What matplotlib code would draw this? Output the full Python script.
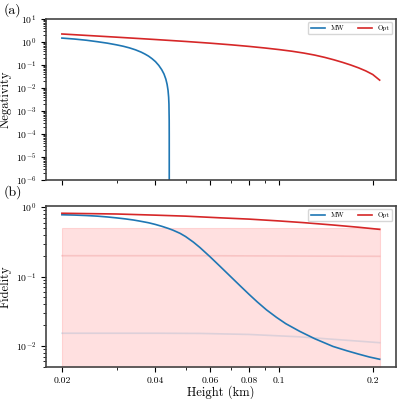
import matplotlib
matplotlib.use('Agg')
import matplotlib.pyplot as plt
from matplotlib.ticker import NullFormatter
import numpy as np

plt.rcParams['font.family'] = 'serif'
plt.rcParams['font.serif'] = ['cmr10']
plt.rcParams['mathtext.fontset'] = 'cm'
plt.rcParams['axes.formatter.use_mathtext'] = True
plt.rcParams['axes.unicode_minus'] = False

# (a) negativity ###############################################################
h_neg_mw = [0.0200, 0.0220, 0.0240, 0.0260, 0.0280, 0.0300, 0.0315, 0.0330,
            0.0345, 0.0360, 0.0370, 0.0380, 0.0390, 0.0400, 0.0410, 0.0419,
            0.0426, 0.0432, 0.0436, 0.0439, 0.0441, 0.0442, 0.04428,
            0.044296, 0.0442996, 0.0443]
neg_mw = [1.48, 1.34, 1.19, 1.03, 0.89, 0.75, 0.653, 0.554,
          0.456, 0.361, 0.299, 0.243, 0.188, 0.140, 0.0957, 0.0624,
          0.0408, 0.0242, 0.0144, 0.008, 0.004, 0.002, 4e-4,
          8e-5, 8e-6, 1e-7]

h_neg_opt = [0.02, 0.03, 0.04, 0.05, 0.06, 0.07, 0.08, 0.09, 0.10, 0.11,
             0.12, 0.13, 0.14, 0.15, 0.16, 0.17, 0.18, 0.19, 0.20, 0.2105]
neg_opt = [2.23, 1.62, 1.28, 1.056, 0.888, 0.754, 0.643, 0.548, 0.467, 0.396,
           0.330, 0.270, 0.215, 0.168, 0.130, 0.0996, 0.0752, 0.0552, 0.0386,
           0.022]

# (b) fidelity #################################################################
h_fid_mw = [0.020, 0.022, 0.024, 0.026, 0.028, 0.030, 0.032, 0.034, 0.0356,
            0.038, 0.040, 0.042, 0.044, 0.0455, 0.048, 0.050, 0.053, 0.0556,
            0.060, 0.0644, 0.0711, 0.075, 0.080, 0.085, 0.091, 0.098, 0.105,
            0.1164, 0.130, 0.149, 0.165, 0.180, 0.195, 0.2105]
fid_mw = [0.78, 0.772, 0.760, 0.745, 0.725, 0.703, 0.680, 0.655, 0.632,
          0.598, 0.565, 0.530, 0.495, 0.468, 0.4205, 0.378, 0.3136, 0.2627,
          0.1922, 0.1418, 0.0922, 0.0731, 0.0554, 0.0431, 0.0331, 0.0258,
          0.0209, 0.0162, 0.0127, 0.0098, 0.0085, 0.0076, 0.0069, 0.0064]

h_fid_opt = [0.020, 0.030, 0.040, 0.050, 0.0644, 0.080, 0.100, 0.120, 0.149,
             0.180, 0.2105]
fid_opt = [0.82, 0.80, 0.77, 0.745, 0.705, 0.675, 0.635, 0.60, 0.555,
           0.515, 0.48]

h_band = [0.020, 0.2105]
band_hi = [0.5, 0.5]
band_lo = [1e-4, 1e-4]

h_lim_opt = [0.020, 0.0556, 0.2105]
lim_opt = [0.200, 0.200, 0.196]

h_lim_mw = [0.020, 0.040, 0.0556, 0.080, 0.116, 0.2105]
lim_mw = [0.0152, 0.0152, 0.0151, 0.0146, 0.0135, 0.0111]

xticks = [0.02, 0.04, 0.06, 0.08, 0.1, 0.2]
xticklabels = ['0.02', '0.04', '0.06', '0.08', '0.1', '0.2']

c_mw = '#1f77b4'
c_opt = '#d62728'

fig = plt.figure(figsize=(3.99, 3.99), dpi=100)
ax1 = fig.add_axes([0.1153, 0.5489, 0.876, 0.4035])
ax2 = fig.add_axes([0.1153, 0.081, 0.876, 0.4028], sharex=ax1)

ax1.plot(h_neg_mw, neg_mw, color=c_mw, lw=1.2, label='MW')
ax1.plot(h_neg_opt, neg_opt, color=c_opt, lw=1.2, label='Opt')
ax1.set_xscale('log')
ax1.set_yscale('log')
ax1.set_ylim(1e-6, 1e1)
ax1.set_ylabel('Negativity', fontsize=9)
ax1.yaxis.set_label_coords(-0.097, 0.5)
ax1.legend(loc='upper right', ncol=2, fontsize=5)
plt.setp(ax1.get_xticklabels(), visible=False)

# shaded region and the faint reference lines
ax2.fill_between(h_band, band_lo, band_hi, color='red', alpha=0.12, lw=0.8)
ax2.plot(h_lim_opt, lim_opt, color=c_opt, lw=1.2, alpha=0.15)
ax2.plot(h_lim_mw, lim_mw, color=c_mw, lw=1.2, alpha=0.15)
ax2.plot(h_fid_mw, fid_mw, color=c_mw, lw=1.2, label='MW')
ax2.plot(h_fid_opt, fid_opt, color=c_opt, lw=1.2, label='Opt')
ax2.set_yscale('log')
ax2.set_ylim(0.005, 1.045)
ax2.set_ylabel('Fidelity', fontsize=9)
ax2.yaxis.set_label_coords(-0.097, 0.5)
ax2.set_xlabel('Height (km)', fontsize=9)
ax2.xaxis.set_label_coords(0.5, -0.115)
ax2.legend(loc='upper right', ncol=2, fontsize=5)

ax2.set_xticks(xticks)
ax2.set_xticklabels(xticklabels)
ax2.xaxis.set_minor_formatter(NullFormatter())
ax1.xaxis.set_minor_formatter(NullFormatter())

for ax in [ax1, ax2]:
    ax.tick_params(labelsize=7)
    ax.yaxis.set_minor_formatter(NullFormatter())
    for s in ax.spines.values():
        s.set_linewidth(1.2)
        s.set_color('#444444')

fig.text(0.008, 0.975, '(a)', fontsize=10, va='center')
fig.text(0.008, 0.518, '(b)', fontsize=10, va='center')

fig.savefig('out.png', dpi=100)
